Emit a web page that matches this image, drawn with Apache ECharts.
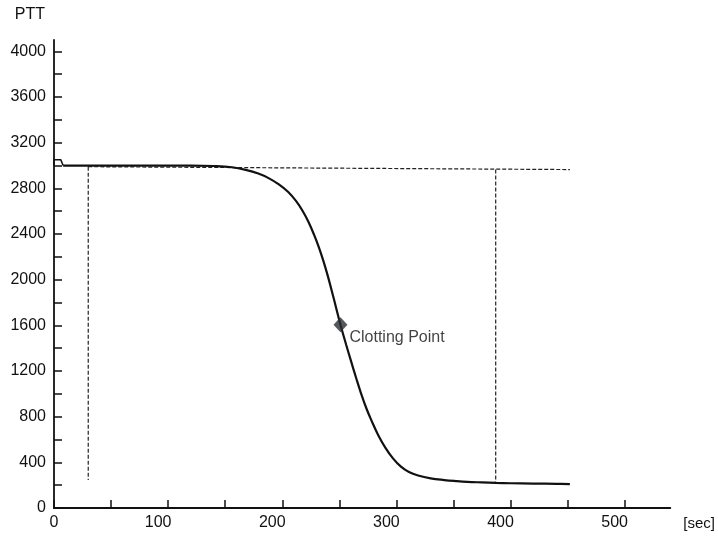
<!DOCTYPE html>
<html>
<head>
<meta charset="utf-8">
<script src="https://cdn.jsdelivr.net/npm/echarts@6/dist/echarts.min.js"></script>
<style>
  html, body { margin: 0; padding: 0; background: #fff; }
  #chart { width: 718px; height: 540px; }
</style>
</head>
<body>
<div id="chart"></div>
<script>
// Clotting curve: PTT signal against time in seconds
const timeSec = [8, 30, 60, 90, 120, 140, 156, 168, 179, 188, 197, 205, 212, 218, 223, 228, 232, 236, 240, 245, 251, 256, 260, 265, 269, 274, 278, 284, 290, 297, 304, 311, 319, 330, 342, 352, 362, 375, 387, 400, 420, 440, 452];
const pttValues = [3000, 3000, 3000, 3000, 3000, 2996, 2985, 2962, 2930, 2890, 2835, 2770, 2690, 2600, 2505, 2390, 2285, 2165, 2029, 1839, 1605, 1430, 1295, 1130, 1005, 865, 770, 640, 534, 435, 362, 315, 285, 260, 245, 236, 229, 224, 220, 217, 214, 212, 210];

// Short start-up step at the beginning of the trace
const startTime = [0, 0, 6, 8];
const startValues = [3000, 3050, 3050, 3000];

// Clotting point
const clotTime = 251;
const clotValue = 1605;
const clotLabel = 'Clotting Point';

// Dashed reference lines: baseline and the two measurement limits
const baselineTime = [30, 452];
const baselineValues = [2990, 2965];
const startLimitTime = [30, 30];
const startLimitValues = [2990, 245];
const endLimitTime = [387, 387];
const endLimitValues = [2965, 220];

// Ticks and labels
const yTickValues = [0, 200, 400, 600, 800, 1000, 1200, 1400, 1600, 1800, 2000, 2200, 2400, 2600, 2800, 3000, 3200, 3400, 3600, 3800, 4000];
const yLabelValues = [0, 400, 800, 1200, 1600, 2000, 2400, 2800, 3200, 3600, 4000];
const xTickValues = [0, 50, 100, 150, 200, 250, 300, 350, 400, 450, 500];
const xLabelValues = [0, 100, 200, 300, 400, 500];

const pairs = (xs, ys) => xs.map((x, i) => [x, ys[i]]);

const ink = '#111';
const textColor = '#111';
const font = '"Liberation Sans", Arial, sans-serif';
const fontSize = 16;

const dashed = (name, xs, ys) => ({
  name: name,
  type: 'line',
  data: pairs(xs, ys),
  symbol: 'none',
  silent: true,
  lineStyle: { color: '#222', width: 1.2, type: [4, 2] },
  z: 2
});

const chart = echarts.init(document.getElementById('chart'), null, { renderer: 'canvas' });
chart.setOption({
  backgroundColor: '#ffffff',
  animation: false,
  grid: { left: 54, right: 44, top: 40, bottom: 32, containLabel: false },
  xAxis: {
    type: 'value',
    min: 0,
    max: 540,
    name: '[sec]',
    nameLocation: 'end',
    nameGap: 13,
    nameTextStyle: { color: textColor, fontSize: 15, fontFamily: font, verticalAlign: 'top', padding: [8, 0, 0, 0] },
    splitLine: { show: false },
    axisLine: { show: true, lineStyle: { color: ink, width: 1.8 } },
    axisTick: { show: true, inside: true, length: 8, lineStyle: { color: ink, width: 1.5 }, customValues: xTickValues },
    axisLabel: {
      customValues: xLabelValues,
      margin: 7,
      color: textColor,
      fontSize: fontSize,
      fontFamily: font,
      formatter: v => (v === 0 ? '{z|0}' : '{n|' + v + '}'),
      rich: {
        z: { fontSize: fontSize, fontFamily: font, color: textColor },
        n: { fontSize: fontSize, fontFamily: font, color: textColor, padding: [0, 20, 0, 0] }
      }
    }
  },
  yAxis: {
    type: 'value',
    min: 0,
    max: 4100,
    name: 'PTT',
    nameLocation: 'end',
    nameGap: 17,
    nameTextStyle: { color: textColor, fontSize: fontSize, fontFamily: font, align: 'right', padding: [0, 9, 0, 0] },
    splitLine: { show: false },
    axisLine: { show: true, lineStyle: { color: ink, width: 1.8 } },
    axisTick: { show: true, inside: true, length: 8, lineStyle: { color: ink, width: 1.5 }, customValues: yTickValues },
    axisLabel: {
      customValues: yLabelValues,
      margin: 8,
      color: textColor,
      fontSize: fontSize,
      fontFamily: font,
      formatter: v => String(v)
    }
  },
  series: [
    dashed('baseline', baselineTime, baselineValues),
    dashed('start limit', startLimitTime, startLimitValues),
    dashed('end limit', endLimitTime, endLimitValues),
    {
      name: 'start',
      type: 'line',
      data: pairs(startTime, startValues),
      symbol: 'none',
      lineStyle: { color: ink, width: 1.5 },
      z: 3
    },
    {
      name: 'PTT',
      type: 'line',
      data: pairs(timeSec, pttValues),
      symbol: 'none',
      smooth: 0.4,
      lineStyle: { color: ink, width: 2.2 },
      z: 3
    },
    {
      name: clotLabel,
      type: 'scatter',
      data: [[clotTime, clotValue]],
      symbol: 'diamond',
      symbolSize: [14, 15],
      itemStyle: { color: '#2b2e35' },
      label: {
        show: true,
        position: 'right',
        distance: 2,
        offset: [0, 13],
        formatter: clotLabel,
        color: textColor,
        fontSize: fontSize,
        fontFamily: font
      },
      z: 5
    }
  ]
});
</script>
</body>
</html>
